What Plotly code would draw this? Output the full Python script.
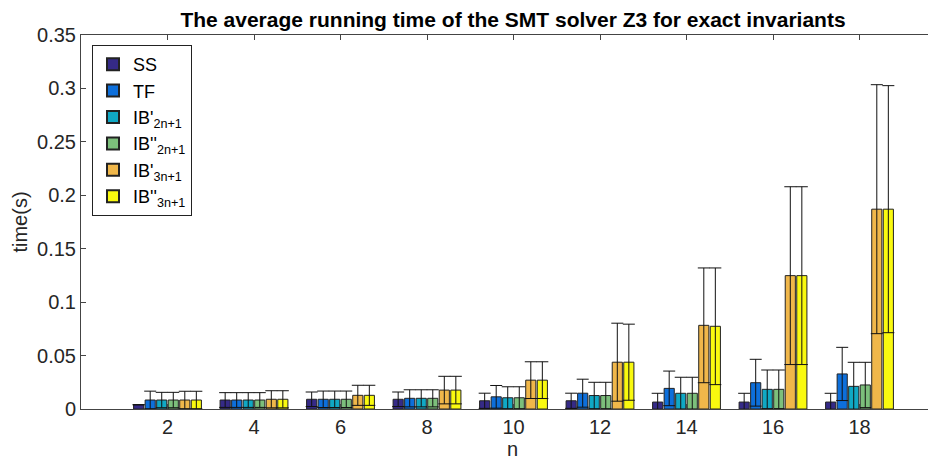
import plotly.graph_objects as go

n_values = [2, 4, 6, 8, 10, 12, 14, 16, 18]
series_names = ["SS", "TF", "IB'<sub>2n+1</sub>", "IB''<sub>2n+1</sub>",
                "IB'<sub>3n+1</sub>", "IB''<sub>3n+1</sub>"]

ss_mean = [0.0040, 0.0084, 0.0091, 0.0091, 0.0077, 0.0077, 0.0065, 0.0065, 0.0065]
ss_err = [0.0, 0.0069, 0.0068, 0.0068, 0.0071, 0.0071, 0.0082, 0.0082, 0.0082]
tf_mean = [0.0084, 0.0084, 0.0091, 0.0100, 0.0114, 0.0148, 0.0193, 0.0246, 0.0328]
tf_err = [0.0083, 0.0069, 0.0077, 0.0080, 0.0106, 0.0131, 0.0162, 0.0219, 0.0249]
ib2a_mean = [0.0084, 0.0084, 0.0091, 0.0100, 0.0105, 0.0126, 0.0147, 0.0184, 0.0212]
ib2a_err = [0.0072, 0.0069, 0.0077, 0.0080, 0.0103, 0.0124, 0.0150, 0.0181, 0.0225]
ib2b_mean = [0.0084, 0.0084, 0.0091, 0.0100, 0.0105, 0.0126, 0.0147, 0.0184, 0.0225]
ib2b_err = [0.0072, 0.0069, 0.0077, 0.0080, 0.0103, 0.0124, 0.0150, 0.0181, 0.0212]
ib3a_mean = [0.0084, 0.0091, 0.0128, 0.0177, 0.0270, 0.0438, 0.0783, 0.1248, 0.1870]
ib3a_err = [0.0082, 0.0080, 0.0094, 0.0129, 0.0172, 0.0365, 0.0537, 0.0832, 0.1165]
ib3b_mean = [0.0084, 0.0091, 0.0128, 0.0177, 0.0270, 0.0438, 0.0774, 0.1248, 0.1870]
ib3b_err = [0.0082, 0.0080, 0.0094, 0.0129, 0.0172, 0.0356, 0.0546, 0.0832, 0.1156]

means = [ss_mean, tf_mean, ib2a_mean, ib2b_mean, ib3a_mean, ib3b_mean]
errs = [ss_err, tf_err, ib2a_err, ib2b_err, ib3a_err, ib3b_err]
colors = ["#352a87", "#0d6fdb", "#10a8c4", "#7cbf7b", "#f0b74a", "#f9f90f"]

y_ticks = [0, 0.05, 0.1, 0.15, 0.2, 0.25, 0.3, 0.35]
y_ticktext = ["0", "0.05", "0.1", "0.15", "0.2", "0.25", "0.3", "0.35"]

FONT = "Liberation Sans, Arial, Helvetica, sans-serif"

fig = go.Figure()
for name, m, e, c in zip(series_names, means, errs, colors):
    fig.add_trace(go.Bar(
        x=n_values, y=m, name=name,
        marker=dict(color=c, line=dict(color="#222222", width=1)),
        error_y=dict(type="data", array=e, visible=True, color="#111111",
                     thickness=1, width=6),
    ))

# page body adds an 8px offset; margins compensate so the plot lands where the reference has it
OFF = 8
W, H = 936, 462
L, R, T, B = 81 - OFF, 0, 35 - OFF, 462 - 409 + OFF

fig.update_layout(
    width=W, height=H,
    margin=dict(l=L, r=R, t=T, b=B, autoexpand=False),
    paper_bgcolor="white", plot_bgcolor="white",
    barmode="group", bargap=0.2, bargroupgap=0.12,
    font=dict(family=FONT, size=20, color="#262626"),
    title=dict(text="<b>The average running time of the SMT solver Z3 for exact invariants</b>",
               x=(513 - OFF) / W, xanchor="center", y=1 - 4 / H, yanchor="top",
               font=dict(family=FONT, size=21, color="#000000")),
    showlegend=True,
    legend=dict(x=(92 - 81) / (W - L - R), y=1 - (45 - 35) / (H - T - B),
                xanchor="left", yanchor="top",
                bgcolor="white", bordercolor="#222222", borderwidth=1,
                font=dict(family=FONT, size=18, color="#000000"),
                tracegroupgap=0, itemsizing="constant"),
    xaxis=dict(range=[0, (W - L - R) / 43.25], tickvals=n_values,
               ticks="inside", ticklen=5, tickcolor="#444444",
               showline=True, linecolor="#444444", linewidth=1,
               mirror="ticks", showgrid=False, zeroline=False,
               automargin=False,
               title=dict(text="n", standoff=2, font=dict(size=20)),
               tickfont=dict(size=20)),
    yaxis=dict(range=[0, 0.35], tickvals=y_ticks, ticktext=y_ticktext,
               ticks="inside", ticklen=5, tickcolor="#444444",
               showline=True, linecolor="#444444", linewidth=1,
               mirror=False, showgrid=False, zeroline=False,
               automargin=False,
               title=dict(text="time(s)", standoff=4, font=dict(size=20)),
               tickfont=dict(size=20)),
)

fig.write_html("out.html")
